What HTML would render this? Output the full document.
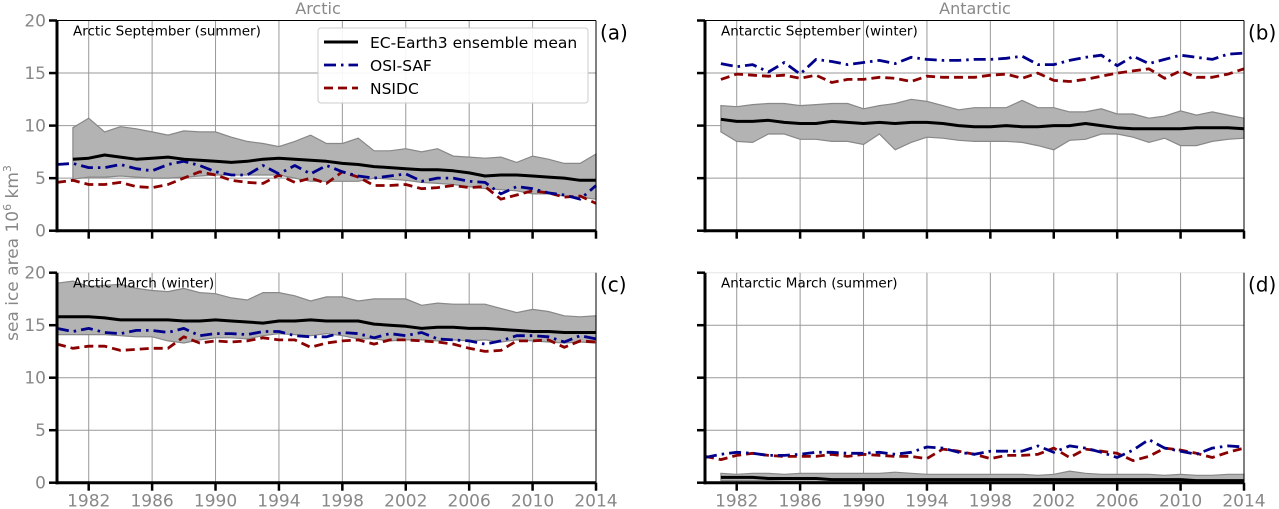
<!DOCTYPE html>
<html><head><meta charset="utf-8"><style>
html,body{margin:0;padding:0;background:#fff;}
svg{display:block;font-family:"DejaVu Sans","Liberation Sans",sans-serif;}
</style></head><body>
<svg id="chart" width="1279" height="509" viewBox="0 0 1279 509" xmlns="http://www.w3.org/2000/svg">
<text x="318" y="14" font-size="16" fill="#888" text-anchor="middle">Arctic</text>
<text x="975" y="14" font-size="16" fill="#888" text-anchor="middle">Antarctic</text>
<text transform="translate(18,253) rotate(-90)" font-size="17" fill="#888" text-anchor="middle">sea ice area 10<tspan font-size="11" dy="-7">6</tspan><tspan dy="7"> km</tspan><tspan font-size="11" dy="-7">3</tspan></text>
<g id="panels"></g>
</svg>
<script>
const yTicks=[0,5,10,15,20];
const xTicks=[1982,1986,1990,1994,1998,2002,2006,2010,2014];
const yearsObs=[];for(let y=1980;y<=2014;y++)yearsObs.push(y);
const yearsMod=[];for(let y=1981;y<=2014;y++)yearsMod.push(y);

const aMean=[6.8,6.9,7.2,7.0,6.8,6.9,7.0,6.8,6.7,6.6,6.5,6.6,6.8,6.9,6.8,6.7,6.6,6.4,6.3,6.1,6.0,5.9,5.8,5.8,5.7,5.5,5.2,5.3,5.3,5.2,5.1,5.0,4.8,4.8];
const aHigh=[9.8,10.7,9.4,9.9,9.7,9.4,9.1,9.5,9.4,9.4,8.9,8.5,8.3,8.0,8.5,9.1,8.3,8.3,8.8,7.6,7.6,7.8,7.5,7.8,7.1,7.0,6.9,7.0,6.5,7.1,6.8,6.4,6.4,7.3];
const aLow=[4.9,5.1,5.1,5.2,5.1,5.0,5.0,5.1,5.2,5.3,5.3,5.3,5.3,5.3,5.0,4.7,4.7,4.7,4.7,5.0,4.9,4.8,4.6,4.5,4.4,4.2,4.0,3.9,3.8,3.5,3.5,3.3,3.2,3.0];
const aOsi=[6.3,6.4,6.0,6.0,6.3,5.9,5.7,6.3,6.6,6.2,5.6,5.3,5.3,6.2,5.4,6.2,5.4,6.2,5.6,5.2,5.0,5.2,5.4,4.7,5.0,5.0,4.7,4.6,3.5,4.2,4.0,3.6,3.4,3.0,4.3];
const aNsidc=[4.6,4.8,4.4,4.4,4.6,4.2,4.1,4.4,5.0,5.6,5.3,4.8,4.6,4.5,5.3,4.6,5.0,4.5,5.6,5.1,4.3,4.3,4.4,4.0,4.1,4.3,4.1,4.2,3.0,3.4,3.8,3.6,3.2,3.3,2.6];

const bMean=[10.6,10.4,10.4,10.5,10.3,10.2,10.2,10.4,10.3,10.2,10.3,10.2,10.3,10.3,10.2,10.0,9.9,9.9,10.0,9.9,9.9,10.0,10.0,10.2,10.0,9.8,9.7,9.7,9.7,9.7,9.8,9.8,9.8,9.7];
const bHigh=[11.9,11.8,12.0,12.1,12.1,11.9,12.0,12.1,12.1,11.6,11.9,12.1,12.5,12.3,11.9,11.5,11.7,11.7,11.7,12.4,11.7,11.7,11.3,11.3,11.6,11.1,11.1,10.7,10.9,11.4,11.0,11.3,11.0,10.7];
const bLow=[9.4,8.5,8.4,9.2,9.2,8.7,8.7,8.5,8.5,8.2,9.2,7.7,8.4,8.9,8.8,8.6,8.5,8.5,8.5,8.4,8.1,7.7,8.6,8.7,9.2,9.2,8.9,8.4,8.8,8.1,8.1,8.5,8.7,8.8];
const bOsi=[15.9,15.6,15.8,15.1,16.0,14.9,16.3,16.1,15.8,16.0,16.2,15.9,16.5,16.3,16.2,16.2,16.3,16.3,16.4,16.6,15.8,15.8,16.2,16.5,16.7,15.7,16.6,15.9,16.3,16.7,16.5,16.3,16.8,16.9];
const bNsidc=[14.4,14.9,14.8,14.7,14.8,14.5,14.8,14.1,14.4,14.4,14.6,14.5,14.2,14.7,14.6,14.6,14.6,14.8,14.9,14.5,15.0,14.3,14.2,14.4,14.7,15.0,15.2,15.4,14.5,15.2,14.6,14.6,14.9,15.4];

const cMean=[15.8,15.8,15.8,15.7,15.5,15.5,15.5,15.5,15.4,15.4,15.5,15.4,15.3,15.2,15.4,15.4,15.5,15.4,15.4,15.4,15.1,15.0,14.9,14.7,14.8,14.8,14.7,14.7,14.6,14.5,14.4,14.4,14.3,14.3,14.3];
const cHigh=[19.0,19.2,18.7,18.8,18.9,18.5,18.3,18.2,18.5,18.1,18.0,17.6,17.4,18.1,18.1,17.8,17.3,17.7,17.7,17.3,17.5,17.5,17.5,16.9,17.1,17.0,17.0,17.0,16.6,16.2,16.5,16.3,15.9,15.8,15.9];
const cLow=[14.1,14.1,14.1,14.1,14.0,13.9,13.9,13.5,13.3,13.6,13.8,13.8,13.7,14.0,14.2,14.1,14.0,14.2,14.0,13.7,13.7,13.5,13.6,13.6,13.5,13.6,13.5,13.6,13.4,13.6,13.5,13.4,13.3,13.4,13.3];
const cOsi=[14.7,14.4,14.7,14.3,14.2,14.5,14.5,14.3,14.7,14.0,14.2,14.2,14.1,14.4,14.4,14.0,13.9,13.9,14.3,14.2,13.8,14.2,14.0,14.3,13.7,13.6,13.5,13.2,13.5,14.0,14.0,13.9,13.4,14.0,13.7];
const cNsidc=[13.2,12.8,13.0,13.0,12.6,12.7,12.8,12.8,13.9,13.3,13.5,13.4,13.5,13.8,13.6,13.6,12.9,13.3,13.5,13.6,13.2,13.6,13.6,13.5,13.4,13.2,12.8,12.5,12.6,13.5,13.5,13.6,12.9,13.5,13.4];

const dMean=[0.5,0.5,0.5,0.4,0.4,0.4,0.4,0.3,0.3,0.3,0.3,0.3,0.3,0.3,0.3,0.3,0.3,0.3,0.3,0.3,0.3,0.3,0.3,0.3,0.3,0.3,0.3,0.3,0.3,0.3,0.2,0.2,0.2,0.2];
const dHigh=[0.9,0.8,0.9,0.9,0.8,0.9,0.9,0.9,0.9,0.9,0.9,1.0,0.9,0.8,0.8,0.8,0.8,0.8,0.8,0.8,0.7,0.8,1.1,0.9,0.8,0.8,0.8,0.8,0.7,0.8,0.7,0.7,0.8,0.8];
const dLow=[0.2,0.2,0.2,0.2,0.1,0.1,0.1,0.1,0.1,0.1,0.1,0.1,0.1,0.1,0.1,0.1,0.1,0.1,0.1,0.1,0.1,0.1,0.1,0.1,0.1,0.1,0.1,0.1,0.1,0.1,0.1,0.1,0.1,0.1];
const dOsi=[2.4,2.7,2.9,2.8,2.6,2.6,2.7,2.9,2.9,2.8,2.8,2.9,2.7,2.9,3.4,3.3,2.9,2.7,3.0,3.0,3.0,3.5,2.9,3.5,3.3,2.9,2.4,3.1,4.1,3.3,3.0,2.7,3.3,3.5,3.4];
const dNsidc=[2.5,2.2,2.6,2.8,2.6,2.5,2.5,2.5,2.7,2.5,2.7,2.6,2.5,2.5,2.3,3.2,3.0,2.7,2.3,2.6,2.6,2.7,3.3,2.4,3.2,3.0,2.8,2.1,2.5,3.3,3.1,2.8,2.4,2.9,3.3];

const NS='http://www.w3.org/2000/svg';
const root=document.getElementById('panels');
function mk(tag,attrs,parent){const e=document.createElementNS(NS,tag);for(const k in attrs)e.setAttribute(k,attrs[k]);(parent||root).appendChild(e);return e;}

const panels=[
 {id:'a',x0:57,x1:596,y0:20.5,y1:230.7,title:'Arctic September (summer)',mean:aMean,high:aHigh,low:aLow,osi:aOsi,nsidc:aNsidc,modYears:yearsMod,obsYears:yearsObs,ylab:true,xlab:false,legend:true},
 {id:'b',x0:705,x1:1244,y0:20.5,y1:230.7,title:'Antarctic September (winter)',mean:bMean,high:bHigh,low:bLow,osi:bOsi,nsidc:bNsidc,modYears:yearsMod,obsYears:yearsMod,ylab:false,xlab:false},
 {id:'c',x0:57,x1:596,y0:272.7,y1:482.7,title:'Arctic March (winter)',mean:cMean,high:cHigh,low:cLow,osi:cOsi,nsidc:cNsidc,modYears:yearsObs,obsYears:yearsObs,ylab:true,xlab:true},
 {id:'d',x0:705,x1:1244,y0:272.7,y1:482.7,title:'Antarctic March (summer)',mean:dMean,high:dHigh,low:dLow,osi:dOsi,nsidc:dNsidc,modYears:yearsMod,obsYears:yearsObs,ylab:false,xlab:true}
];

panels.forEach(p=>{
 const g=mk('g',{});
 
 
 const xs=y=>p.x0+(y-1980)/(2014-1980)*(p.x1-p.x0);
 const ys=v=>p.y1-v/20*(p.y1-p.y0);
 yTicks.forEach(t=>{if(t===0)return;const l=mk('line',{x1:p.x0,x2:p.x1,y1:ys(t),y2:ys(t),stroke:t===20?'#e6e6e6':'#999','stroke-width':1},g);
  });
 xTicks.forEach(t=>{const l=mk('line',{x1:xs(t),x2:xs(t),y1:p.y0,y2:p.y1,stroke:'#999','stroke-width':1},g);
  });
 let d='';p.high.forEach((v,i)=>{d+=(i?'L':'M')+xs(p.modYears[i]).toFixed(1)+','+ys(v).toFixed(1);});
 for(let i=p.low.length-1;i>=0;i--)d+='L'+xs(p.modYears[i]).toFixed(1)+','+ys(p.low[i]).toFixed(1);
 const band=mk('path',{d:d+'Z',fill:'#b3b3b3',stroke:'#888','stroke-width':1.2},g);
 
 const line=(arr,yrs,st)=>{let s='';arr.forEach((v,i)=>{s+=(i?'L':'M')+xs(yrs[i]).toFixed(1)+','+ys(v).toFixed(1);});return mk('path',Object.assign({d:s,fill:'none','stroke-linejoin':'round'},st),g);};
 const n=line(p.nsidc,p.obsYears,{stroke:'#8b0000','stroke-width':2.8,'stroke-dasharray':'9,5'});
 
 const o=line(p.osi,p.obsYears,{stroke:'#00008b','stroke-width':2.8,'stroke-dasharray':'12,5,2.5,5'});
 
 const m=line(p.mean,p.modYears,{stroke:'#000','stroke-width':3});
 
 const sl=mk('line',{x1:p.x0,x2:p.x0,y1:p.y0,y2:p.y1+1.5,stroke:'#000','stroke-width':3},g);
 
 const sb=mk('line',{x1:p.x0-1.5,x2:p.x1,y1:p.y1,y2:p.y1,stroke:'#000','stroke-width':3},g);
 
 const sr=mk('line',{x1:p.x1,x2:p.x1,y1:p.y0,y2:p.y1,stroke:'#000','stroke-width':1},g);
 
 if(p.y0<100){const st=mk('line',{x1:p.x0,x2:p.x1,y1:p.y0,y2:p.y0,stroke:'#000','stroke-width':1},g);
  }
 yTicks.forEach(t=>{const tk=mk('line',{x1:p.x0-8,x2:p.x0,y1:ys(t),y2:ys(t),stroke:'#000','stroke-width':2.5},g);
  
  if(p.ylab){const tx=mk('text',{x:p.x0-11,y:ys(t)+6,'font-size':17,fill:'#888','text-anchor':'end'},g);tx.textContent=t;
   }});
 xTicks.forEach(t=>{const tk=mk('line',{x1:xs(t),x2:xs(t),y1:p.y1,y2:p.y1+8,stroke:'#000','stroke-width':2.5},g);
  
  if(p.xlab){const tx=mk('text',{x:xs(t),y:p.y1+24,'font-size':17,fill:'#888','text-anchor':'middle'},g);tx.textContent=t;
   }});
 const tt=mk('text',{x:p.x0+16,y:p.y0+15,'font-size':13.5,fill:'#000'},g);tt.textContent=p.title;
 
 const pl=mk('text',{x:p.x1+4,y:p.y0+19,'font-size':20,fill:'#000'},g);pl.textContent='('+p.id+')';
 
 if(p.legend){
  const lg=mk('g',{},g);
  
  mk('rect',{x:318,y:28,width:270,height:75,rx:3,fill:'#fff','fill-opacity':0.9,stroke:'#ccc'},lg);
  const rows=[['EC-Earth3 ensemble mean',{stroke:'#000','stroke-width':3}],['OSI-SAF',{stroke:'#00008b','stroke-width':2.8,'stroke-dasharray':'12,5,2.5,5'}],['NSIDC',{stroke:'#8b0000','stroke-width':2.8,'stroke-dasharray':'9,5'}]];
  rows.forEach((r,i)=>{const yy=42+i*23;
   const e=mk('g',{},lg);
   
   mk('line',Object.assign({x1:324,x2:358,y1:yy,y2:yy},r[1]),e);
   const tx=mk('text',{x:370,y:yy+6,'font-size':15.5,fill:'#000'},e);tx.textContent=r[0];});
 }
});
</script>
</body></html>
